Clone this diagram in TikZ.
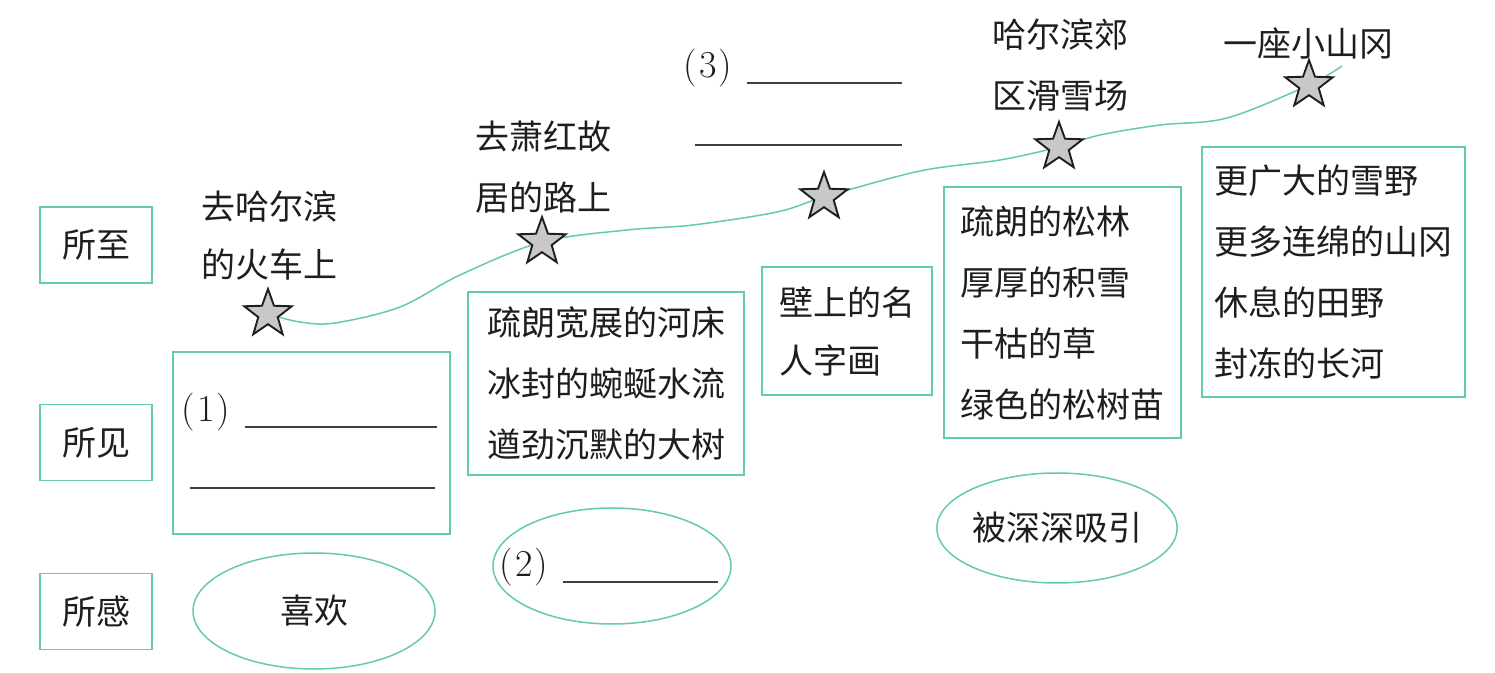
\documentclass[tikz,border=0pt]{standalone}
\usepackage{fontspec}
\newfontfamily\cjk{Noto Sans CJK SC}
\usetikzlibrary{shapes.geometric}
\definecolor{grn}{RGB}{100,205,160}
\definecolor{starfill}{RGB}{200,200,200}
\definecolor{ink}{RGB}{30,30,30}
\begin{document}
\begin{tikzpicture}[x=0.5pt,y=-0.5pt,
  txt/.style={font=\cjk\fontsize{17}{30.5}\selectfont, text=ink, inner sep=0pt, align=left},
  lbl/.style={draw=grn, line width=0.75pt, rectangle, minimum width=56pt, minimum height=38pt, inner sep=0pt, font=\cjk\fontsize{17}{30.5}\selectfont, text=ink},
  box/.style={draw=grn, line width=0.75pt, rectangle, inner sep=0pt, align=left, font=\cjk\fontsize{17}{30.5}\selectfont, text=ink},
  oval/.style={draw=grn, line width=0.75pt, ellipse, inner sep=0pt, font=\cjk\fontsize{17}{30.5}\selectfont, text=ink},
  starnode/.style={star, star points=5, star point ratio=2.45, minimum size=25pt, inner sep=0pt, draw=ink, fill=starfill, line width=0.95pt},
  blank/.style={draw=ink!85, line width=0.75pt},
  num/.style={font=\fontsize{19}{22}\selectfont, text=ink, inner sep=0pt},
  curve/.style={draw=grn, line width=0.75pt}
]
\useasboundingbox (0,0) rectangle (1495,673);

% star positions
\coordinate (p1) at (268,314);
\coordinate (p2) at (542,242);
\coordinate (p3) at (824,197);
\coordinate (p4) at (1059,147);
\coordinate (p5) at (1309,85);

% route curve
\draw[curve] plot[smooth, tension=0.55] coordinates {(p1) (300,322) (335,323) (400,307) (460,275) (p2) (627,230) (693,225) (777,212) (p3) (920,171) (1000,160) (p4) (1100,135) (1160,125) (1227,118) (p5) (1342,66)};

% stars
\node[starnode] (s1) at (p1) {};
\node[starnode] (s2) at (p2) {};
\node[starnode] (s3) at (p3) {};
\node[starnode] (s4) at (p4) {};
\node[starnode] (s5) at (p5) {};

% row labels
\node[lbl] (zhi) at (96,245) {所至};
\node[lbl] (jian) at (96,442.5) {所见};
\node[lbl] (gan) at (96,611.5) {所感};

% place labels
\node[txt, font=\cjk\fontsize{17}{29}\selectfont] (t1) at (269,236) {去哈尔滨\\的火车上};
\node[txt] (t2) at (543.5,167.5) {去萧红故\\居的路上};
\node[num] (n3) at (708,68) {(\kern1pt3\kern1pt)};
\coordinate (u3a) at (747,83);
\coordinate (u3b) at (902,83);
\coordinate (u3c) at (695,145);
\coordinate (u3d) at (902,145);
\draw[blank] (u3a) -- (u3b);
\draw[blank] (u3c) -- (u3d);
\node[txt] (t4) at (1060,65.5) {哈尔滨郊\\区滑雪场};
\node[txt] (t5) at (1308,43) {一座小山冈};

% seen boxes
\node[box, minimum width=138.5pt, minimum height=91pt] (b1) at (311.5,443) {};
\node[num] (n1) at (206,412) {(\kern1pt1\kern1pt)};
\coordinate (u1a) at (245,427);
\coordinate (u1b) at (437,427);
\coordinate (u1c) at (190,488);
\coordinate (u1d) at (435,488);
\draw[blank] (u1a) -- (u1b);
\draw[blank] (u1c) -- (u1d);

\node[box, minimum width=138pt, minimum height=91.5pt] (b2) at (606,383.5) {疏朗宽展的河床\\冰封的蜿蜒水流\\遒劲沉默的大树};
\node[box, minimum width=85pt, minimum height=64pt, font=\cjk\fontsize{17}{29}\selectfont] (b3) at (847,331) {壁上的名\\人字画};
\node[box, minimum width=118.5pt, minimum height=125.5pt] (b4) at (1062.5,312.5) {疏朗的松林\\厚厚的积雪\\干枯的草\\绿色的松树苗};
\node[box, minimum width=131.5pt, minimum height=125pt] (b5) at (1333.5,272) {更广大的雪野\\更多连绵的山冈\\休息的田野\\封冻的长河};

% feelings
\node[oval, minimum width=121pt, minimum height=58pt] (e1) at (314,611) {喜欢};
\node[oval, minimum width=119pt, minimum height=58pt] (e2) at (612,566) {};
\node[num] (n2) at (524,567) {(\kern1pt2\kern1pt)};
\coordinate (u2a) at (563,582);
\coordinate (u2b) at (718,582);
\draw[blank] (u2a) -- (u2b);
\node[oval, minimum width=120pt, minimum height=55pt] (e3) at (1057,528) {被深深吸引};
\end{tikzpicture}
\end{document}
